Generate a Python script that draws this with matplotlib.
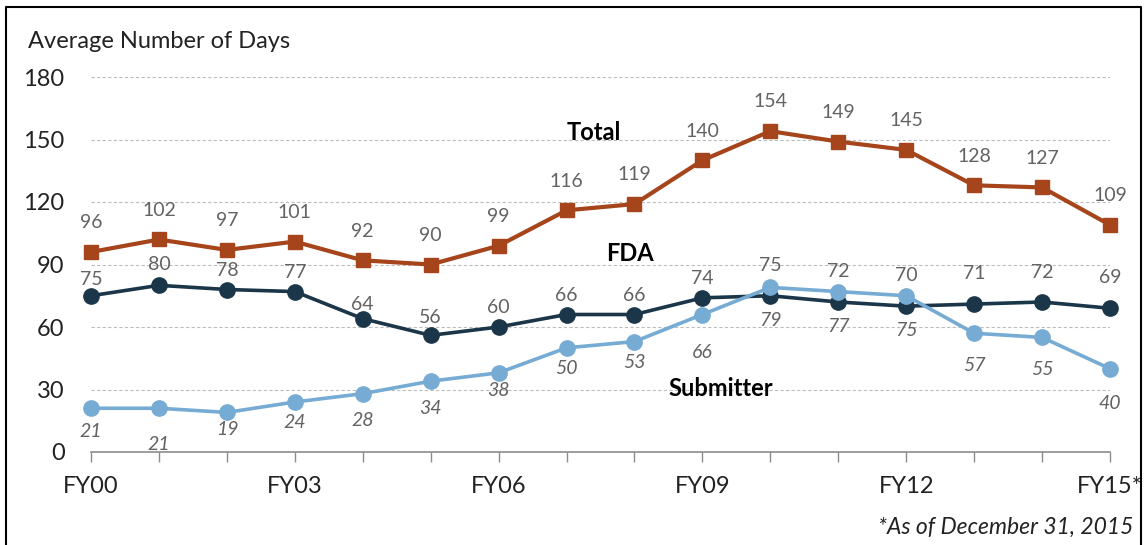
import numpy as np
import matplotlib
matplotlib.use("Agg")
import matplotlib.pyplot as plt
from matplotlib.lines import Line2D

plt.rcParams['font.family'] = ['Lato', 'DejaVu Sans']

# data
years = ["FY00", "FY01", "FY02", "FY03", "FY04", "FY05", "FY06", "FY07",
         "FY08", "FY09", "FY10", "FY11", "FY12", "FY13", "FY14", "FY15*"]
total = [96, 102, 97, 101, 92, 90, 99, 116, 119, 140, 154, 149, 145, 128, 127, 109]
fda = [75, 80, 78, 77, 64, 56, 60, 66, 66, 74, 75, 72, 70, 71, 72, 69]
submitter = [21, 21, 19, 24, 28, 34, 38, 50, 53, 66, 79, 77, 75, 57, 55, 40]
shown_ticks = ["FY00", "FY03", "FY06", "FY09", "FY12", "FY15*"]

# label offsets (points) for the data labels
fda_off = [12, 15, 14, 14, 10, 13, 14, 14, 14, 14, 22, 22, 22, 22, 21, 22]
sub_off = [-17, -26, -12, -15, -19, -20, -13, -15, -15, -27, -24, -25, -25, -23, -23, -25]

c_total = "#A6441B"
c_fda = "#1B3649"
c_sub = "#76ABD4"
c_lab = "#636363"

fig = plt.figure(figsize=(11.46, 5.45), dpi=100)
ax = fig.add_axes([91 / 1146, 1 - 452 / 545, 1019 / 1146, 375 / 545])

x = np.arange(len(years))

ax.plot(x, total, color=c_total, lw=3, marker="s", ms=10, clip_on=False, zorder=3)
ax.plot(x, fda, color=c_fda, lw=2.6, marker="o", ms=11, clip_on=False, zorder=4)
ax.plot(x, submitter, color=c_sub, lw=2.6, marker="o", ms=11, clip_on=False, zorder=5)

for i in x:
    ax.annotate(str(total[i]), (i, total[i]), xytext=(0, 21), textcoords="offset points",
                ha="center", va="center", fontsize=14, color=c_lab)
    ax.annotate(str(fda[i]), (i, fda[i]), xytext=(0, fda_off[i]), textcoords="offset points",
                ha="center", va="center", fontsize=14, color=c_lab)
    ax.annotate(str(submitter[i]), (i, submitter[i]), xytext=(0, sub_off[i]), textcoords="offset points",
                ha="center", va="center", fontsize=14, color=c_lab, style="italic")

# series names
ax.text(7.40, 153.6, "Total", ha="center", va="center", fontsize=17, fontweight="bold")
ax.text(7.93, 95.5, "FDA", ha="center", va="center", fontsize=17, fontweight="bold")
ax.text(9.27, 30.7, "Submitter", ha="center", va="center", fontsize=17, fontweight="bold")

ax.set_xlim(0, 15)
ax.set_ylim(0, 180)
ax.set_yticks(np.arange(0, 181, 30))
ax.set_xticks(x)
ax.set_xticklabels([y if y in shown_ticks else "" for y in years])

ax.grid(axis="y", color="#BDBDBD", ls=(0, (3, 2)), lw=0.8)
ax.set_axisbelow(True)
for s in ["top", "right", "left"]:
    ax.spines[s].set_visible(False)
ax.spines["bottom"].set_color("#8C8C8C")
ax.spines["bottom"].set_linewidth(1.2)

ax.tick_params(axis="y", length=0, pad=19, labelsize=17, labelcolor="#222222")
ax.tick_params(axis="x", length=7, width=1, color="#8C8C8C", pad=10, labelsize=17,
               labelcolor="#222222")

fig.text(28 / 1146, 1 - 42 / 545, "Average Number of Days", ha="left", va="center",
         fontsize=17, color="#222222")
fig.text(1133 / 1146, 1 - 527 / 545, "*As of December 31, 2015", ha="right", va="center",
         fontsize=16.5, style="italic", color="#222222")

# outer frame
fx = [6 / 1146, 6 / 1146, 1141 / 1146, 1141 / 1146]
fy = [-0.01, 1 - 7 / 545, 1 - 7 / 545, -0.01]
fig.add_artist(Line2D(fx, fy, color="black", lw=1.5, transform=fig.transFigure))

fig.savefig("out.png", dpi=100)
